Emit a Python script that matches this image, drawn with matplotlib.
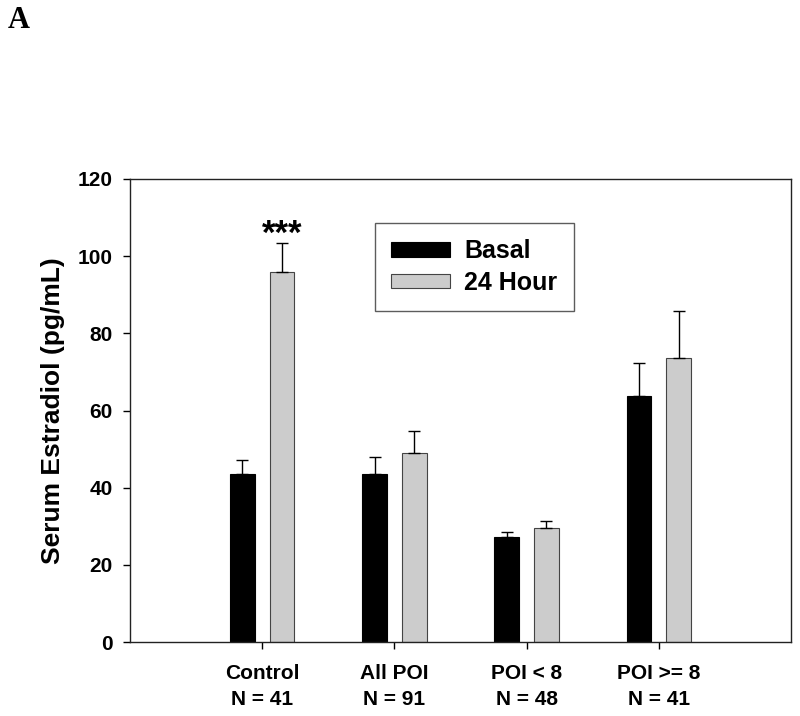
import numpy as np
import matplotlib.pyplot as plt

plt.rcParams['font.family'] = ['Liberation Sans', 'DejaVu Sans']
plt.rcParams['font.weight'] = 'bold'

groups = ['Control\nN = 41', 'All POI\nN = 91', 'POI < 8\nN = 48', 'POI >= 8\nN = 41']
basal = [43.5, 43.5, 27.3, 63.8]
basal_err = [3.7, 4.5, 1.3, 8.5]
hour24 = [96.0, 49.0, 29.5, 73.7]
hour24_err = [7.3, 5.7, 1.9, 12.0]

x = np.arange(1, len(groups) + 1)
w = 0.187
off = 0.15

fig = plt.figure(figsize=(8, 7.16), dpi=100)
ax = fig.add_axes([130 / 800, 1 - 642 / 716, 661 / 800, 463 / 716])

ekw = dict(ecolor='black', elinewidth=1, capsize=4.5, capthick=1)
ax.bar(x - off, basal, w, color='black', edgecolor='black', linewidth=0.8,
       yerr=[np.zeros(4), basal_err], error_kw=ekw, label='Basal', zorder=2)
ax.bar(x + off, hour24, w, color='#cccccc', edgecolor='#444444', linewidth=0.8,
       yerr=[np.zeros(4), hour24_err], error_kw=ekw, label='24 Hour', zorder=2)

ax.text(x[0] + off, hour24[0] + hour24_err[0] - 0.2, '***', ha='center', va='baseline',
        fontsize=25, fontweight='bold')

ax.set_xlim(0, 5)
ax.set_ylim(0, 120)
ax.set_yticks(range(0, 121, 20))
ax.set_xticks(x)
ax.set_xticklabels(groups, fontsize=15)
ax.tick_params(axis='y', labelsize=15, direction='out', length=5, width=1, pad=7.5)
ax.tick_params(axis='x', direction='out', length=5, width=1, pad=11)
for lab in ax.get_xticklabels() + ax.get_yticklabels():
    lab.set_fontweight('bold')
for lab in ax.get_xticklabels():
    lab.set_linespacing(1.45)
ax.set_ylabel('Serum Estradiol (pg/mL)', fontsize=19, fontweight='bold', labelpad=9)
for s in ax.spines.values():
    s.set_linewidth(1)
    s.set_color('#222222')

leg = ax.legend(loc='upper left', bbox_to_anchor=((375 - 130) / 661, (642 - 223) / 463),
                fontsize=18, frameon=True, fancybox=False, edgecolor='#333333',
                handlelength=2.36, handleheight=0.5, borderpad=0.65, labelspacing=0.3,
                handletextpad=0.56, borderaxespad=0)
leg.get_frame().set_linewidth(1)
for t in leg.get_texts():
    t.set_fontweight('bold')

fig.text(8 / 800, 1 - 20 / 716, 'A', fontsize=22, fontweight='bold',
         family=['Liberation Serif', 'DejaVu Serif'], ha='left', va='center')

fig.savefig('out.png', dpi=100)
